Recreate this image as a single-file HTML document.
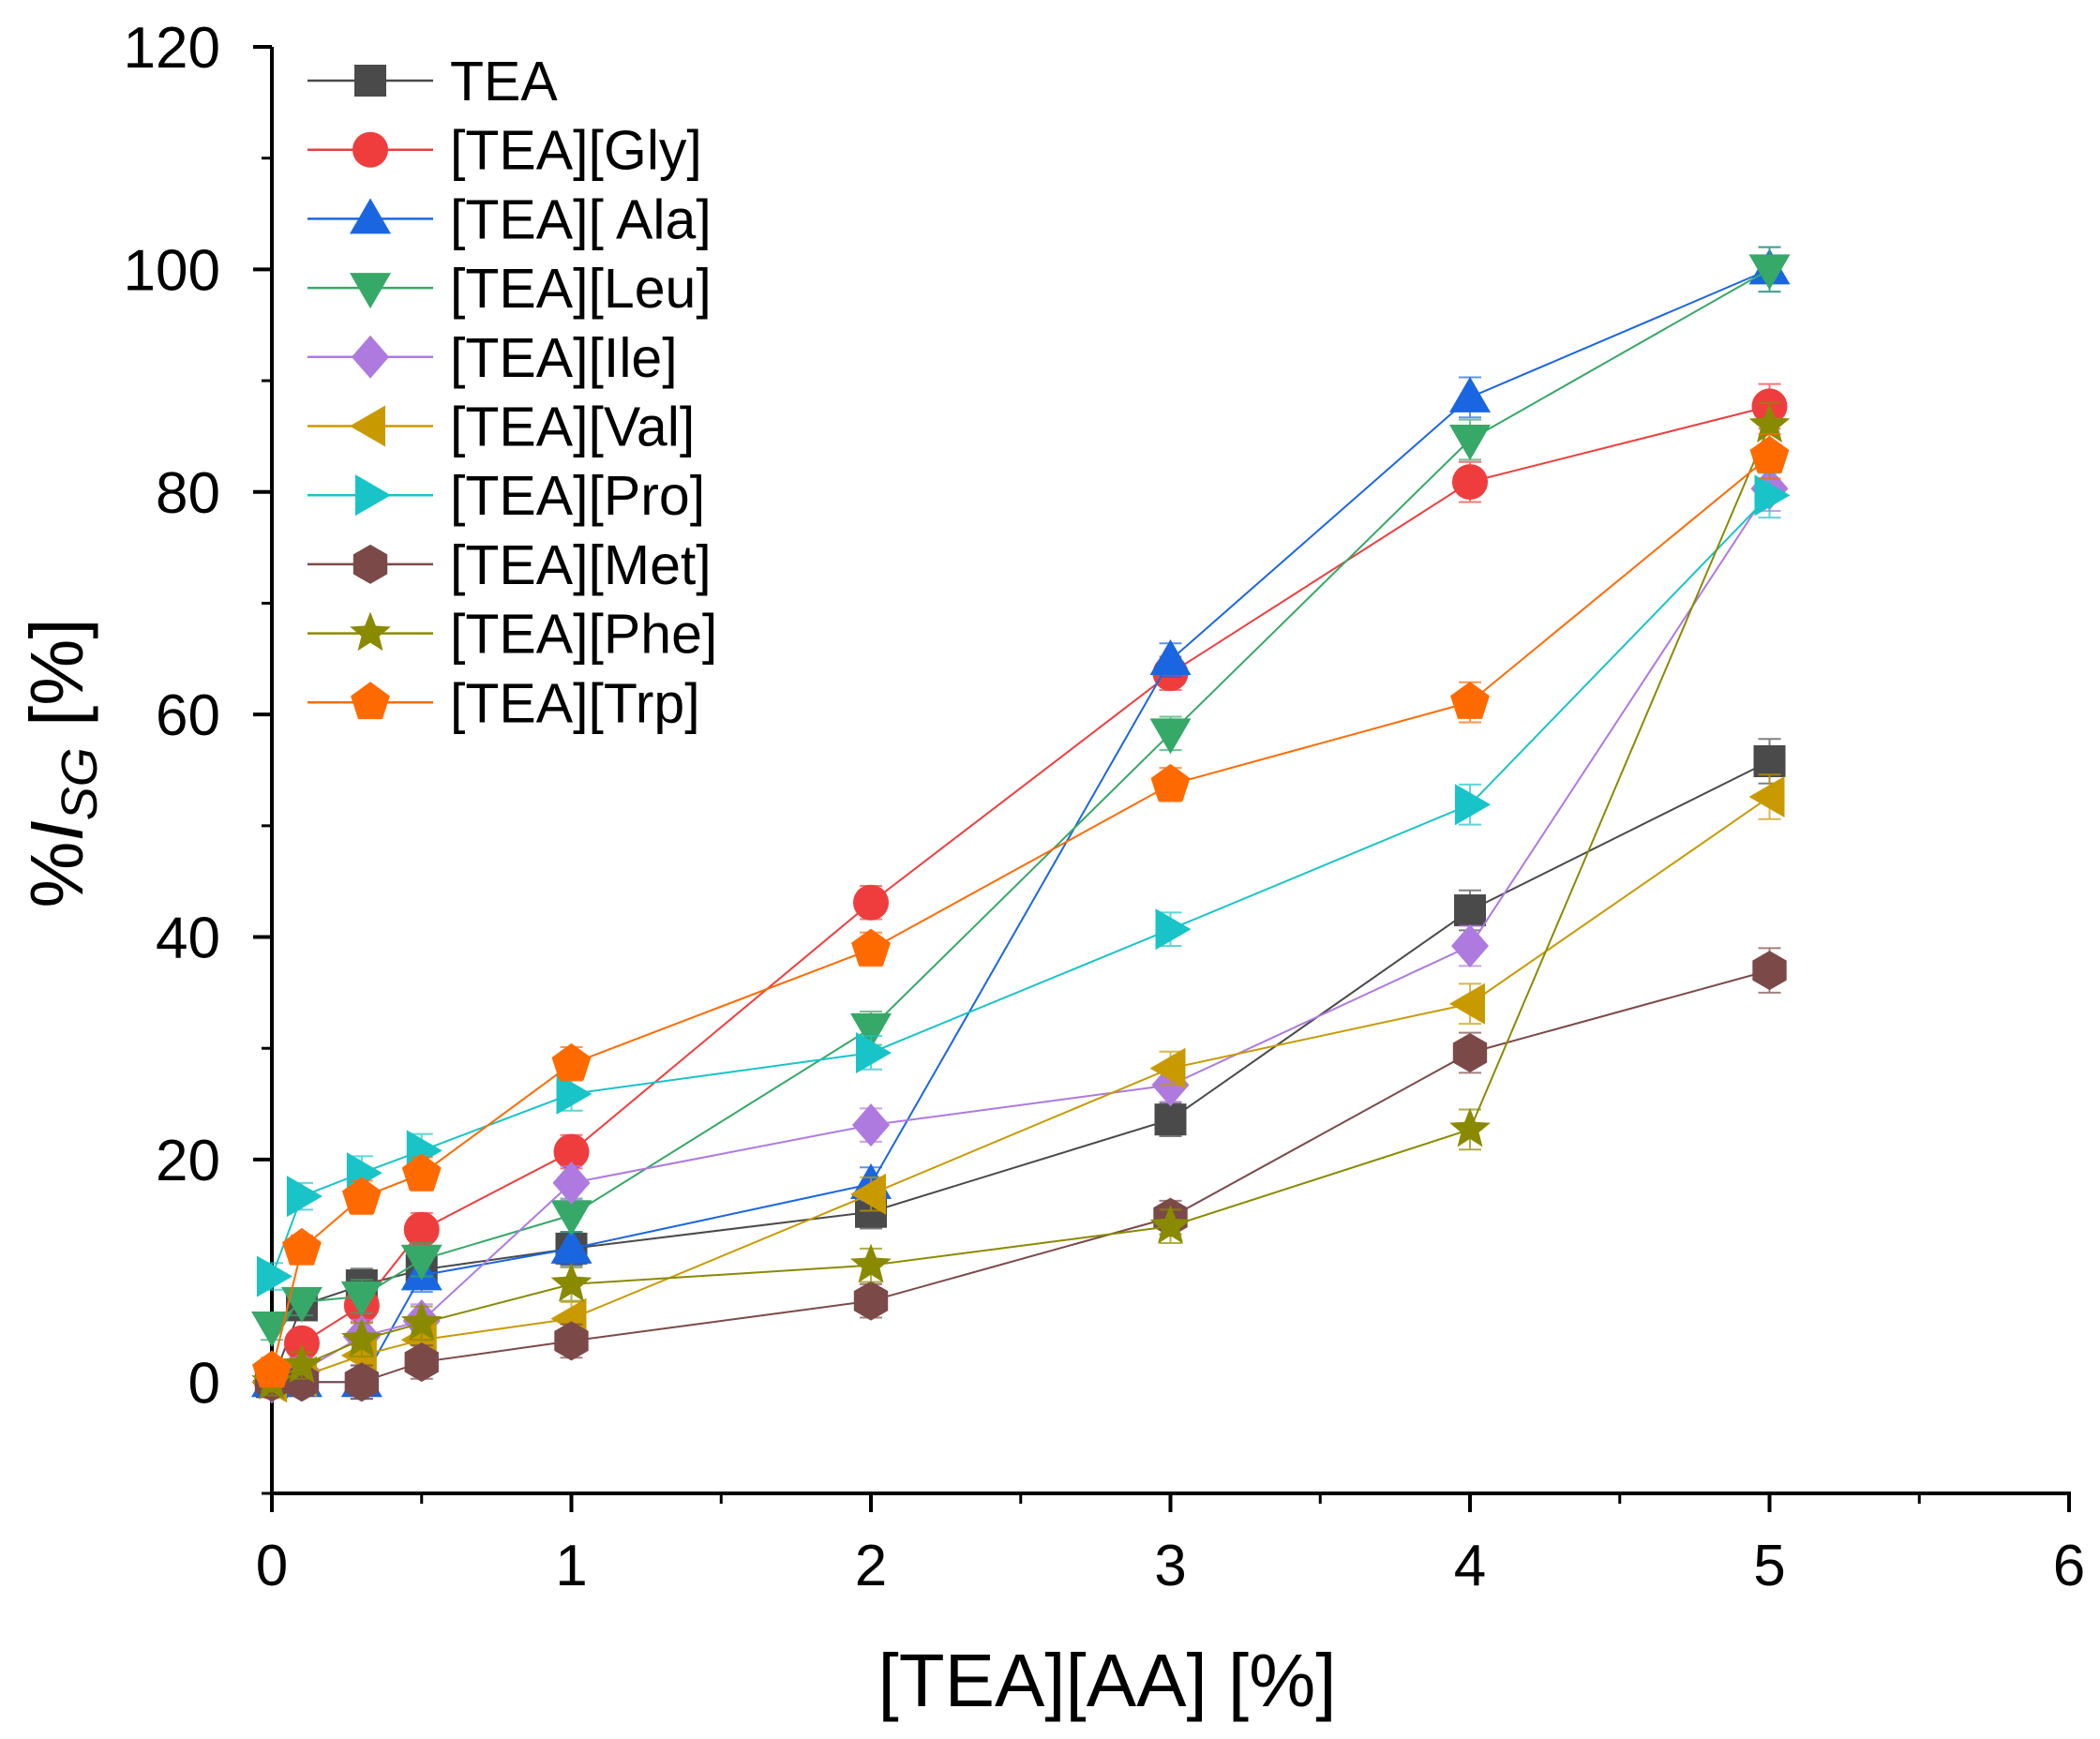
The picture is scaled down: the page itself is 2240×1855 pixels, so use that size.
<!DOCTYPE html>
<html><head><meta charset="utf-8"><style>
body{margin:0;background:#fff}
svg{display:block;font-family:"Liberation Sans",sans-serif}
</style></head><body>
<svg id="chart" width="2240" height="1855" viewBox="0 0 2240 1855" xmlns="http://www.w3.org/2000/svg">
<g id="axes"></g>
<g id="series"></g>
<g id="legend"></g>
<text x="1181" y="1820" font-size="80" text-anchor="middle">[TEA][AA] [%]</text>
<text transform="translate(88,814) rotate(-90)" font-size="80" text-anchor="middle">%<tspan font-style="italic">I</tspan><tspan font-style="italic" font-size="54" dy="15">SG</tspan><tspan dy="-15"> [%]</tspan></text>
</svg>
<script>
const xVals = [0, 0.1, 0.3, 0.5, 1, 2, 3, 4, 5];
const names = ["TEA","[TEA][Gly]","[TEA][ Ala]","[TEA][Leu]","[TEA][Ile]","[TEA][Val]","[TEA][Pro]","[TEA][Met]","[TEA][Phe]","[TEA][Trp]"];
const tea = [0, 6.9, 8.7, 10.1, 12, 15.3, 23.6, 42.4, 55.8];
const gly = [0, 3.5, 6.9, 13.7, 20.7, 43.1, 63.7, 80.9, 87.7];
const ala = [0, 0, 0, 9.6, 12, 17.8, 64.9, 88.5, 100];
const leu = [5, 7.2, 7.7, 11, 15, 31.8, 58.3, 84.7, 100];
const ile = [0, 1, 4.1, 5.5, 17.9, 23.1, 26.7, 39.2, 80.3];
const val = [0, 0.5, 2.4, 3.8, 5.7, 16.9, 28.2, 34, 52.6];
const pro = [9.5, 16.7, 18.8, 20.8, 25.9, 29.6, 40.7, 51.9, 79.7];
const met = [0, 0, 0, 1.8, 3.7, 7.3, 14.8, 29.6, 37];
const phe = [0, 1.5, 3.8, 5.3, 8.8, 10.5, 14, 22.7, 86];
const trp = [1, 12, 16.6, 18.7, 28.6, 38.9, 53.7, 61.1, 83.2];
const errs = [1.2, 1.2, 1.5, 1.5, 1.5, 1.5, 1.5, 1.8, 2];
const xTicks = [0,1,2,3,4,5,6];
const yTicks = [0,20,40,60,80,100,120];
const allSeries = [tea,gly,ala,leu,ile,val,pro,met,phe,trp];
const colors = ["#4a4a4a","#ef3d3d","#1a66e0","#36a867","#ae7ae0","#c89a00","#18c4c8","#7b4a48","#8a8a00","#ff6a00"];
const shapes = ["square","circle","up","down","diamond","left","right","hex","star","pent"];

const NS="http://www.w3.org/2000/svg";
const X0=290, X1=2207, Y0=1593, Y1=50, XMIN=0, XMAX=6, YMIN=-10, YMAX=120;
const sx=v=>X0+(v-XMIN)/(XMAX-XMIN)*(X1-X0);
const sy=v=>Y0-(v-YMIN)/(YMAX-YMIN)*(Y0-Y1);
function mk(tag,attrs,parent){const e=document.createElementNS(NS,tag);for(const k in attrs)e.setAttribute(k,attrs[k]);parent.appendChild(e);return e;}

const axes=document.getElementById('axes');
let e=mk('line',{x1:X0,y1:Y0,x2:X1+2,y2:Y0,stroke:'#000','stroke-width':4},axes);


e=mk('line',{x1:X0,y1:Y0+2,x2:X0,y2:Y1,stroke:'#000','stroke-width':4},axes);


xTicks.forEach(t=>{
  const x=sx(t);
  e=mk('line',{x1:x,y1:Y0,x2:x,y2:Y0+20,stroke:'#000','stroke-width':4},axes);
  
  
  if(t<XMAX){e=mk('line',{x1:sx(t+0.5),y1:Y0,x2:sx(t+0.5),y2:Y0+11,stroke:'#000','stroke-width':3},axes);
  
  }
  e=mk('text',{x:x,y:Y0+98,'font-size':62,'text-anchor':'middle'},axes);e.textContent=t;
  
  
});
yTicks.forEach(t=>{
  const y=sy(t);
  e=mk('line',{x1:X0-20,y1:y,x2:X0,y2:y,stroke:'#000','stroke-width':4},axes);
  
  
  e=mk('text',{x:X0-55,y:y+22,'font-size':62,'text-anchor':'end'},axes);e.textContent=t;
  
  
});
for(let v=-10;v<120;v+=20){
  e=mk('line',{x1:X0-11,y1:sy(v),x2:X0,y2:sy(v),stroke:'#000','stroke-width':3},axes);
  
  
}

function marker(shape,cx,cy,r,color,parent){
  const poly=p=>mk('polygon',{points:p.map(q=>q.join(',')).join(' '),fill:color},parent);
  const reg=(n,rot,rr)=>{const a=[];for(let i=0;i<n;i++){const t=rot+i*2*Math.PI/n;a.push([cx+rr*Math.cos(t),cy+rr*Math.sin(t)]);}return a;};
  switch(shape){
    case 'square':return mk('rect',{x:cx-r*0.85,y:cy-r*0.85,width:r*1.7,height:r*1.7,fill:color},parent);
    case 'circle':return mk('circle',{cx:cx,cy:cy,r:r*0.95,fill:color},parent);
    case 'up':return poly([[cx,cy-r*1.1],[cx+r*1.1,cy+r*0.8],[cx-r*1.1,cy+r*0.8]]);
    case 'down':return poly([[cx,cy+r*1.1],[cx+r*1.1,cy-r*0.8],[cx-r*1.1,cy-r*0.8]]);
    case 'left':return poly([[cx-r*1.1,cy],[cx+r*0.8,cy-r*1.1],[cx+r*0.8,cy+r*1.1]]);
    case 'right':return poly([[cx+r*1.1,cy],[cx-r*0.8,cy-r*1.1],[cx-r*0.8,cy+r*1.1]]);
    case 'diamond':return poly([[cx,cy-r*1.15],[cx+r*1.0,cy],[cx,cy+r*1.15],[cx-r*1.0,cy]]);
    case 'hex':return poly(reg(6,-Math.PI/2,r*1.05));
    case 'pent':return poly(reg(5,-Math.PI/2,r*1.1));
    case 'star':{const a=[];for(let i=0;i<10;i++){const t=-Math.PI/2+i*Math.PI/5;const rr=i%2?r*0.5:r*1.15;a.push([cx+rr*Math.cos(t),cy+rr*Math.sin(t)]);}return poly(a);}
  }
}

const sg=document.getElementById('series');
allSeries.forEach((ys,si)=>{
  const g=mk('g',{},sg);
  
  
  const d=ys.map((v,i)=>(i?'L':'M')+sx(xVals[i])+' '+sy(v)).join(' ');
  const ln=mk('path',{d:d,fill:'none',stroke:colors[si],'stroke-width':2},g);
  
  
  ys.forEach((v,i)=>{
    const x=sx(xVals[i]),er=errs[i]*(Y0-Y1)/(YMAX-YMIN);
    const eb=mk('path',{d:`M${x} ${sy(v)-er}V${sy(v)+er}M${x-12} ${sy(v)-er}H${x+12}M${x-12} ${sy(v)+er}H${x+12}`,stroke:colors[si],'stroke-width':2,opacity:0.7,fill:'none'},g);
    
    
    const m=marker(shapes[si],x,sy(v),20,colors[si],g);
    
    
  });
});

const lg=document.getElementById('legend');
names.forEach((n,i)=>{
  const y=86+i*73.7;
  const g=mk('g',{},lg);
  
  
  mk('line',{x1:328,y1:y,x2:462,y2:y,stroke:colors[i],'stroke-width':2.5},g);
  marker(shapes[i],395,y,20,colors[i],g);
  const t=mk('text',{x:480,y:y+21,'font-size':59},g);t.textContent=n;
});
</script>
</body></html>
